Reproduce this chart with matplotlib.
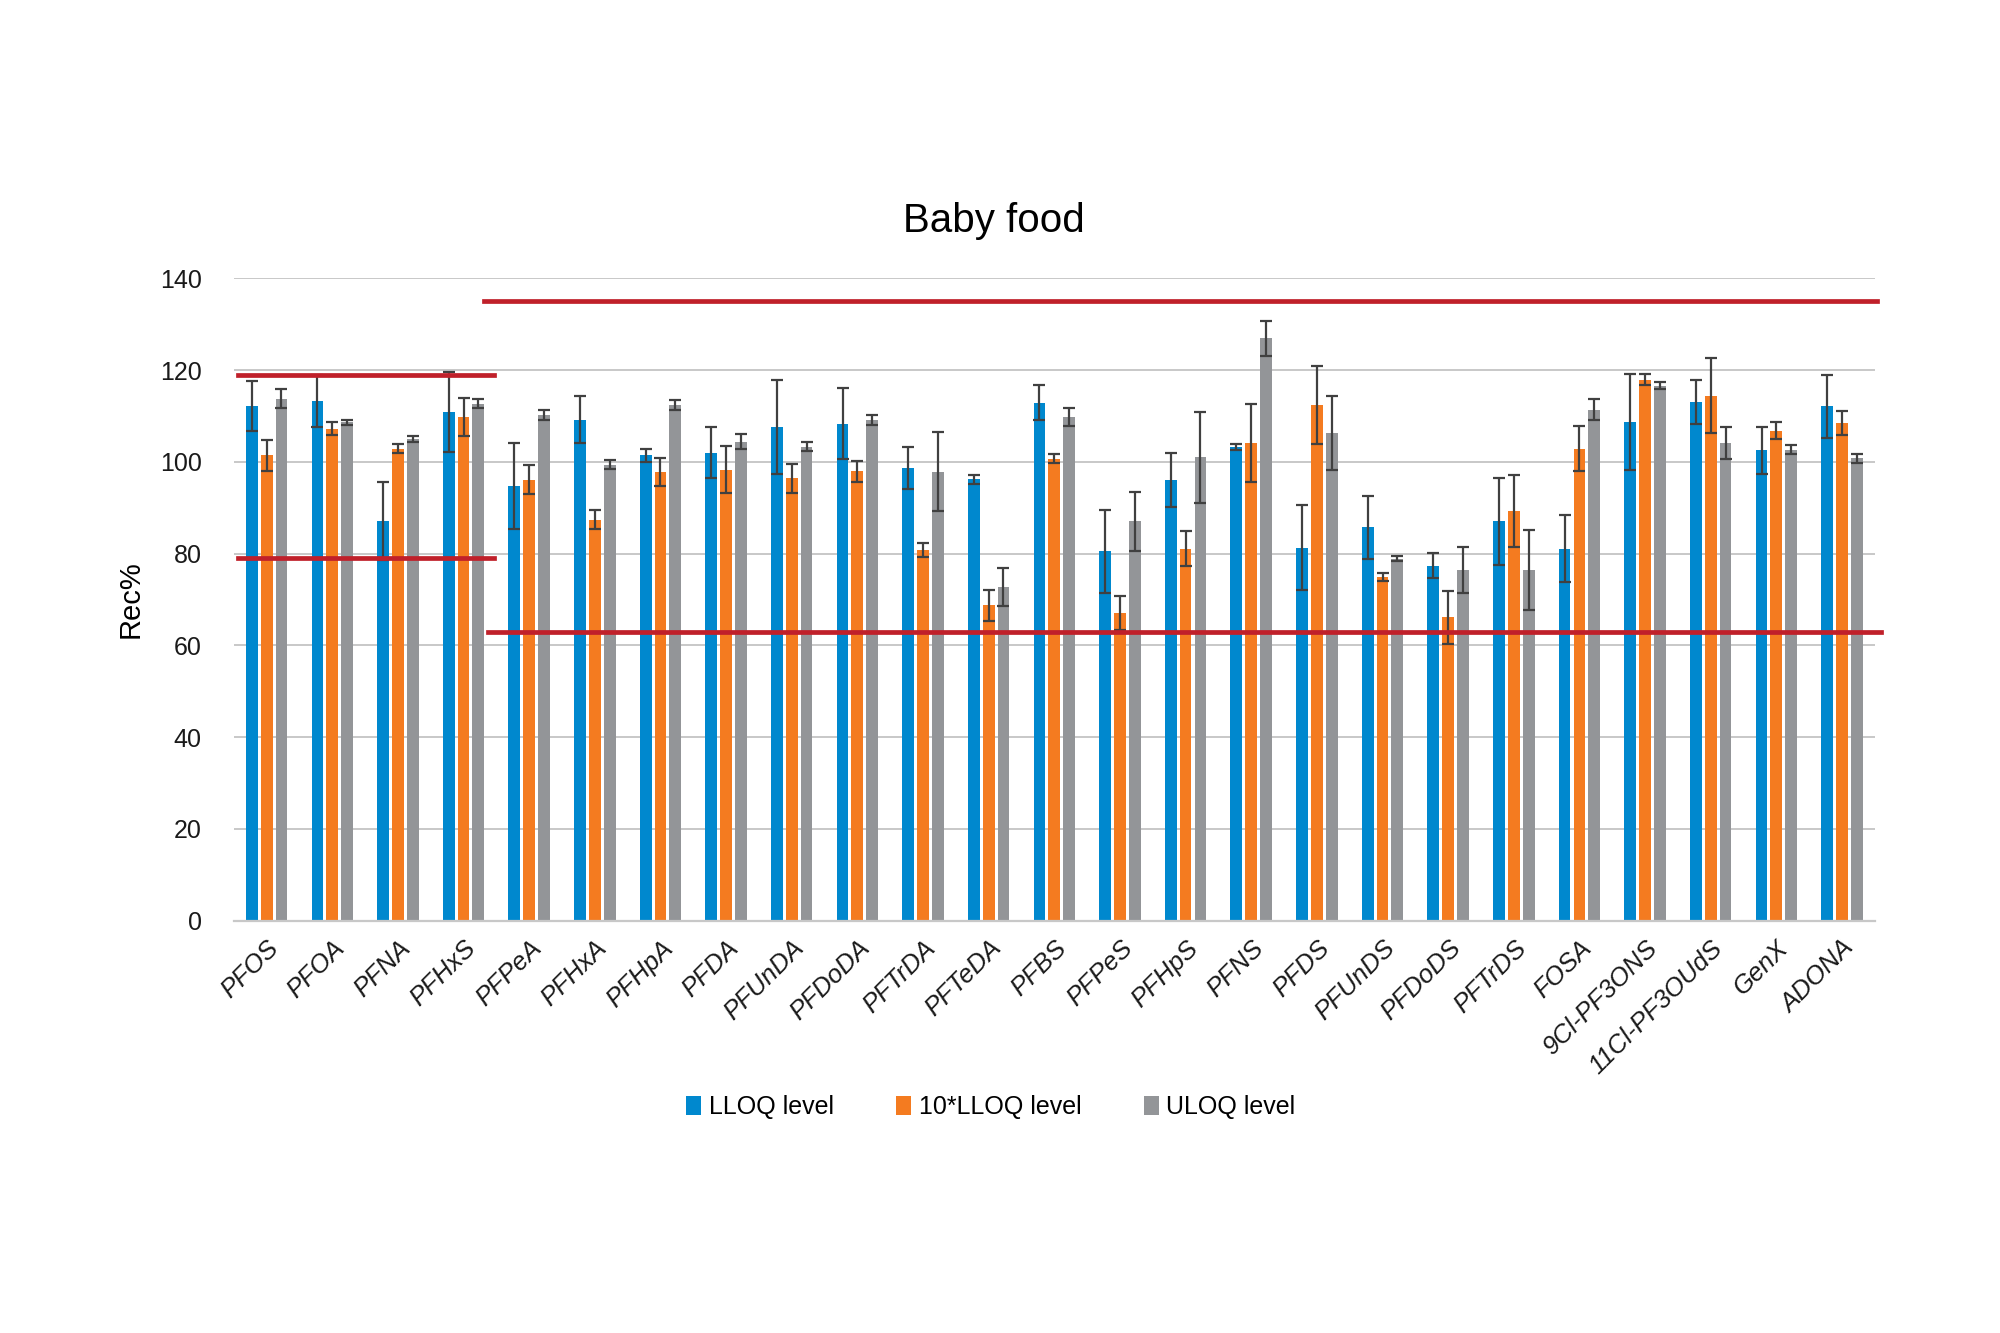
import matplotlib
matplotlib.use("Agg")
import matplotlib.pyplot as plt
import numpy as np

plt.rcParams["font.family"] = ["Liberation Sans", "DejaVu Sans"]

compounds = ["PFOS", "PFOA", "PFNA", "PFHxS", "PFPeA", "PFHxA", "PFHpA", "PFDA",
             "PFUnDA", "PFDoDA", "PFTrDA", "PFTeDA", "PFBS", "PFPeS", "PFHpS", "PFNS",
             "PFDS", "PFUnDS", "PFDoDS", "PFTrDS", "FOSA", "9Cl-PF3ONS", "11Cl-PF3OUdS",
             "GenX", "ADONA"]

lloq = [112.2, 113.3, 87.0, 110.9, 94.7, 109.2, 101.4, 102.0, 107.6, 108.3, 98.7, 96.2,
        112.9, 80.5, 96.1, 103.2, 81.3, 85.7, 77.4, 87.0, 81.1, 108.7, 113.0, 102.5, 112.1]
lloq_err = [5.5, 5.7, 8.5, 8.7, 9.3, 5.2, 1.5, 5.6, 10.2, 7.7, 4.6, 1.0,
            3.8, 9.0, 5.9, 0.7, 9.2, 6.9, 2.8, 9.5, 7.3, 10.4, 4.8, 5.2, 6.9]

lloq10 = [101.4, 107.2, 102.9, 109.8, 96.1, 87.4, 97.8, 98.3, 96.4, 97.9, 80.8, 68.7,
          100.7, 67.1, 81.1, 104.2, 112.4, 74.9, 66.1, 89.3, 102.9, 117.9, 114.4, 106.8, 108.5]
lloq10_err = [3.3, 1.4, 0.9, 4.1, 3.2, 2.1, 3.1, 5.1, 3.1, 2.2, 1.5, 3.3,
              0.9, 3.7, 3.8, 8.5, 8.5, 0.8, 5.8, 7.8, 4.9, 1.2, 8.2, 1.8, 2.6]

uloq = [113.8, 108.6, 105.0, 112.7, 110.2, 99.4, 112.4, 104.4, 103.3, 109.1, 97.8, 72.7,
        109.8, 87.0, 101.0, 126.9, 106.3, 78.9, 76.4, 76.4, 111.4, 116.6, 104.2, 102.6, 100.8]
uloq_err = [2.0, 0.5, 0.6, 1.0, 1.0, 1.0, 1.0, 1.7, 1.0, 1.1, 8.6, 4.1,
            2.0, 6.4, 9.9, 3.9, 8.1, 0.5, 5.0, 8.7, 2.2, 0.7, 3.5, 1.0, 1.0]

series = [("LLOQ level", lloq, lloq_err, "#0088CE"),
          ("10*LLOQ level", lloq10, lloq10_err, "#F47B20"),
          ("ULOQ level", uloq, uloq_err, "#939598")]

# acceptance limits: (value, x start, x end)
limits = [(119, -0.43, 3.46), (79, -0.43, 3.46), (135, 3.31, 24.53), (63, 3.37, 24.59)]

fig = plt.figure(figsize=(20, 13.33), dpi=100)
ax = fig.add_axes([0.1169, 0.3094, 0.8205, 0.4818])

x = np.arange(len(compounds))
w = 0.18
step = 0.226
for i, (name, vals, errs, col) in enumerate(series):
    ax.bar(x + (i - 1) * step, vals, w, color=col, label=name, zorder=2,
           yerr=errs, error_kw=dict(ecolor="#404040", elinewidth=1.6, capsize=4.5,
                                    capthick=1.6, zorder=3))

for val, x0, x1 in limits:
    ax.plot([x0, x1], [val, val], color="#C0202A", lw=3.4, clip_on=False, zorder=4)

ax.set_xlim(-0.5, len(compounds) - 0.5)
ax.set_ylim(0, 140)
ax.set_yticks(range(0, 141, 20))
ax.yaxis.grid(True, color="#C8C8C8", lw=1.4, zorder=0)
ax.set_axisbelow(True)
for s in ["top", "right", "left"]:
    ax.spines[s].set_visible(False)
ax.spines["bottom"].set_color("#C8C8C8")
ax.spines["bottom"].set_linewidth(1.6)
ax.tick_params(axis="both", length=0, labelsize=18, colors="#1a1a1a")
ax.tick_params(axis="y", pad=23)
ax.set_xticks(x)
ax.set_xticklabels(compounds, rotation=45, ha="right", rotation_mode="anchor",
                   fontsize=18.5, style="italic")
ax.tick_params(axis="x", pad=11)
ax.set_ylabel("Rec%", fontsize=21, labelpad=11)

fig.text(0.497, 0.834, "Baby food", ha="center", va="center", fontsize=29)

fig.legend(loc="center", bbox_to_anchor=(0.4955, 0.1695), ncol=3, frameon=False,
           fontsize=18, handlelength=0.6, handleheight=0.8, handletextpad=0.3,
           columnspacing=2.5)

fig.savefig("out.png", dpi=100, facecolor="white")
